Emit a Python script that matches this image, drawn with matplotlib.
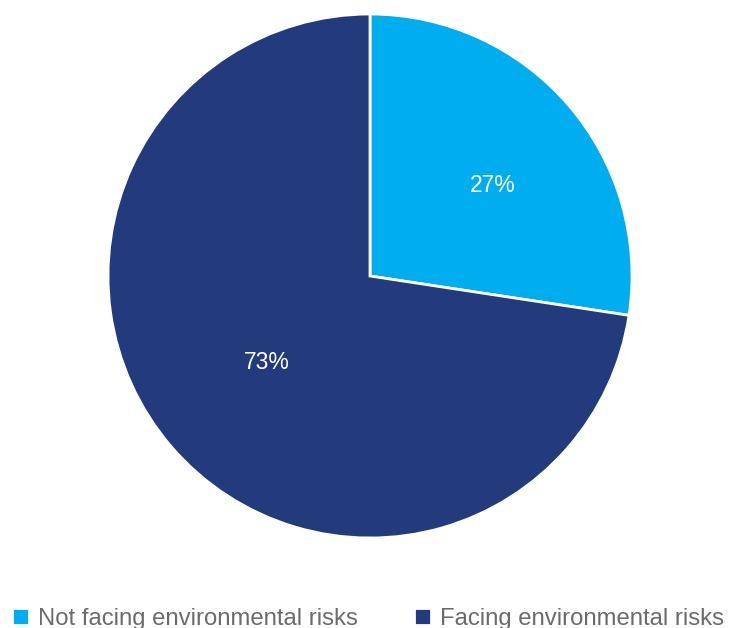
import matplotlib.pyplot as plt

labels = ['Not facing environmental risks', 'Facing environmental risks']
values = [27.4, 72.6]
colors = ['#00AEEF', '#233A7C']
# label spots inside the slices (fraction of radius)
label_pos = [(0.47, 0.345), (-0.395, -0.33)]

plt.rcParams['font.family'] = ['Liberation Sans', 'DejaVu Sans']

fig = plt.figure(figsize=(7.29, 6.28), dpi=100)
# pie centre at (370, 276) px, radius 262 px
ax = fig.add_axes([(370 - 262) / 729, (628 - 276 - 262) / 628, 524 / 729, 524 / 628])

wedges, texts, autotexts = ax.pie(values, colors=colors, startangle=90, counterclock=False,
                                  autopct='%.0f%%', pctdistance=0.56,
                                  wedgeprops=dict(edgecolor='white', linewidth=2),
                                  textprops=dict(color='white', fontsize=16.5))
for t, p in zip(autotexts, label_pos):
    t.set_position(p)
ax.set_xlim(-1, 1)
ax.set_ylim(-1, 1)
ax.set_aspect('equal')
ax.axis('off')

fig.legend(wedges, labels, ncol=2, loc='lower left', bbox_to_anchor=(12 / 729, -0.003),
           frameon=False, fontsize=17.2, labelcolor='#6b6b6b',
           handlelength=0.72, handleheight=0.72, handletextpad=0.36,
           columnspacing=2.37, borderpad=0, borderaxespad=0)

fig.savefig('out.png', dpi=100)
